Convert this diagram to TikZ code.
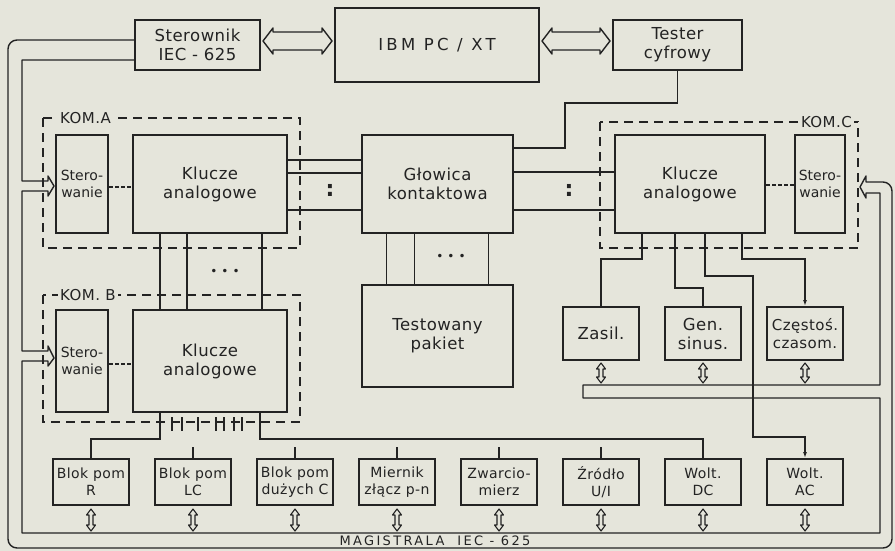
\documentclass[tikz,border=0pt]{standalone}
\usepackage{fontspec}
\setmainfont{DejaVu Sans}[LetterSpace=3]
\usetikzlibrary{positioning,calc,arrows.meta}

\definecolor{paper}{RGB}{229,229,219}
\definecolor{ink}{RGB}{35,35,35}

% hollow double arrow, horizontal
\newcommand\htap[2]{%
  \draw[bus] let \p1=(#1), \p2=(#2) in
    (\x1,\y1) -- (\x1+10pt,\y1+13pt) -- (\x1+10pt,\y1+9pt) -- (\x2-10pt,\y1+9pt)
    -- (\x2-10pt,\y1+13pt) -- (\x2,\y1) -- (\x2-10pt,\y1-13pt) -- (\x2-10pt,\y1-9pt)
    -- (\x1+10pt,\y1-9pt) -- (\x1+10pt,\y1-13pt) -- cycle;}
% hollow double arrow, vertical
\newcommand\vtap[2]{%
  \draw[bus, line width=1.1pt] let \p1=(#1), \p2=(#2) in
    (\x1,\y1) -- (\x1-4.5pt,\y1-6pt) -- (\x1-2pt,\y1-6pt) -- (\x1-2pt,\y2+6pt)
    -- (\x1-4.5pt,\y2+6pt) -- (\x1,\y2) -- (\x1+4.5pt,\y2+6pt) -- (\x1+2pt,\y2+6pt)
    -- (\x1+2pt,\y1-6pt) -- (\x1+4.5pt,\y1-6pt) -- cycle;}

\begin{document}
\begin{tikzpicture}[x=1pt, y=-1pt,
  blk/.style = {draw=ink, text=ink, line width=2pt, align=center, inner sep=1pt, font=\fontsize{16.5}{19}\selectfont},
  meas/.style = {blk, minimum width=76pt, minimum height=53pt},
  small/.style = {blk, font=\fontsize{14}{17}\selectfont, minimum width=76pt, minimum height=46pt},
  sterbox/.style = {blk, font=\fontsize{14}{17}\selectfont\addfontfeatures{LetterSpace=0}, minimum width=52pt, inner sep=0pt},
  wire/.style = {draw=ink, line width=1.3pt},
  bus/.style = {draw=ink, line width=1.4pt, line join=round},
  kom/.style = {draw=ink, line width=1.2pt, dash pattern=on 9pt off 6pt},
  komlbl/.style = {fill=paper, inner sep=2pt, text=ink, font=\fontsize{15}{17}\selectfont},
  ctl/.style = {draw=ink, line width=2pt, dash pattern=on 4pt off 2pt},
  dots/.style = {text=ink, inner sep=0pt, font=\fontsize{12}{12}\selectfont},
  colon/.style = {text=ink, inner sep=0pt, font=\fontsize{22}{22}\selectfont\bfseries}]

  \fill[paper] (0,0) rectangle (895,551);
  \useasboundingbox (0,0) rectangle (895,551);

  % top row
  \node[blk, minimum width=125pt, minimum height=50pt] (ster) at (197.5,45) {Sterownik\\IEC - 625};
  \node[blk, minimum width=204pt, minimum height=74pt] (ibm) at (437,45) {\addfontfeatures{LetterSpace=20}IBM PC / XT};
  \node[blk, minimum width=129pt, minimum height=50pt] (tester) at (677.5,45) {Tester\\cyfrowy};

  % centre
  \node[blk, minimum width=151pt, minimum height=98pt] (glow) at (437.5,184) {Głowica\\kontaktowa};
  \node[blk, minimum width=151pt, minimum height=102pt, below=50pt of glow] (test) {Testowany\\pakiet};

  % KOM.A, KOM.B
  \node[blk, minimum width=154pt, minimum height=98pt] (klA) at (210,184) {Klucze\\analogowe};
  \node[sterbox, minimum height=98pt, left=23pt of klA] (stA) {Stero-\\wanie};
  \node[blk, minimum width=154pt, minimum height=102pt, below=75pt of klA] (klB) {Klucze\\analogowe};
  \node[sterbox, minimum height=102pt, left=23pt of klB] (stB) {Stero-\\wanie};

  % KOM.C
  \node[blk, minimum width=150pt, minimum height=98pt] (klC) at (690,184) {Klucze\\analogowe};
  \node[sterbox, minimum width=50pt, minimum height=98pt, right=28pt of klC] (stC) {Stero-\\wanie};

  \node[meas] (zas) at (601,333.5) {Zasil.};
  \node[meas, right of=zas, node distance=102pt] (gen) {Gen.\\sinus.};
  \node[meas, right of=gen, node distance=102pt, font=\fontsize{15}{18}\selectfont] (cze) {Częstoś.\\czasom.};

  % bottom row
  \node[small] (bR) at (91,482) {Blok pom\\R};
  \node[small, right of=bR, node distance=102pt] (bLC) {Blok pom\\LC};
  \node[small, right of=bLC, node distance=102pt] (bdC) {Blok pom\\dużych C};
  \node[small, right of=bdC, node distance=102pt] (bpn) {Miernik\\złącz p-n};
  \node[small, right of=bpn, node distance=102pt] (bZw) {Zwarcio-\\mierz};
  \node[small, right of=bZw, node distance=102pt] (bUI) {Źródło\\U/I};
  \node[small, right of=bUI, node distance=102pt] (wDC) {Wolt.\\DC};
  \node[small, right of=wDC, node distance=102pt] (wAC) {Wolt.\\AC};

  % dashed modules
  \draw[kom] (43,118) rectangle (300,248);
  \node[komlbl, anchor=west] (komA) at (58,118) {KOM.A};
  \draw[kom] (43,295) rectangle (300,422);
  \node[komlbl, anchor=west] (komB) at (58,295) {KOM. B};
  \draw[kom] (600,122) rectangle (858,248);
  \node[komlbl, anchor=east] (komC) at (854,122) {KOM.C};

  % bus IEC-625
  \coordinate (tipA) at ($(stA.west)+(-1,2)$);
  \coordinate (tipB) at ($(stB.west)+(-1,-3)$);
  \coordinate (tipC) at ($(stC.east)+(14,3)$);
  \coordinate (busin) at (22,533);
  \coordinate (subtop) at (583,385);
  \draw[bus] ($(ster.west)+(0,15)$) -- (22,60) -- (22,181) -- (48,181) -- (48,176) -- (tipA)
    -- (48,196) -- (48,191) -- (22,191) -- (22,351) -- (48,351) -- (48,346) -- (tipB)
    -- (48,366) -- (48,361) -- (22,361) -- (busin) -- (880,533) -- (880,398) -- (583,398)
    -- (subtop) -- (880,385) -- (880,193) -- (866,193) -- (866,198) -- (tipC);
  \draw[bus] ($(ster.west)+(0,-5)$) [rounded corners=9pt] -- (8,40) -- (8,548) -- (892,548)
    -- (892,182) [sharp corners] -- (866,182) -- (866,176) -- (tipC);
  \node[komlbl, fill=none, font=\fontsize{13}{13}\selectfont\addfontfeatures{LetterSpace=18}] (mag) at (435,541) {MAGISTRALA\quad IEC - 625};

  \htap{$(ster.east)+(2,-4)$}{$(ibm.west)+(-2,-4)$}
  \htap{$(ibm.east)+(2,-4)$}{$(tester.west)+(-2,-4)$}
  \foreach \b in {zas,gen,cze}
    \vtap{$(\b.south)+(0,2)$}{$(\b.south |- subtop)+(0,-2)$};
  \foreach \b in {bR,bLC,bdC,bpn,bZw,bUI,wDC,wAC}
    \vtap{$(\b.south)+(0,3)$}{$(\b.south |- busin)+(0,-2)$};

  % connections
  \draw[wire] (tester.south) |- (565,103) |- ([yshift=36pt]glow.east);
  \foreach \dy in {24,11,-26}
    \draw[wire] ([yshift=\dy pt]klA.east) -- ([yshift=\dy pt]glow.west);
  \foreach \dy in {12,-26}
    \draw[wire] ([yshift=\dy pt]glow.east) -- ([yshift=\dy pt]klC.west);
  \node[colon] (cA) at (330,190) {:};
  \node[colon] (cC) at (569,190) {:};
  \foreach \dx in {-51,-23,51}
    \draw[wire] ([xshift=\dx pt]glow.south) -- ([xshift=\dx pt]test.north);
  \node[dots] (dG) at (451,257) {•\hspace{4pt}•\hspace{4pt}•};
  \foreach \dx in {-50,-23,52}
    \draw[wire] ([xshift=\dx pt]klA.south) -- ([xshift=\dx pt]klB.north);
  \node[dots] (dAB) at (225,272) {•\hspace{4pt}•\hspace{4pt}•};

  \draw[ctl] ([yshift=-3pt]stA.east) -- ([yshift=-3pt]klA.west);
  \draw[ctl] ([yshift=-3pt]stB.east) -- ([yshift=-3pt]klB.west);
  \draw[ctl] ([yshift=-1pt]klC.east) -- ([yshift=-1pt]stC.west);

  \draw[wire] ([xshift=-50pt]klB.south) -- ++(0,26) -| (bR.north);
  \draw[wire] ([xshift=50pt]klB.south) -- ++(0,26) -| (wDC.north);
  \foreach \dx in {-38,-28,-12,6,14,24,32}
    \draw[wire] ([xshift=\dx pt, yshift=-4pt]klB.south) -- ++(0,14);
  \foreach \b in {bLC,bdC,bpn,bZw,bUI}
    \draw[wire] (\b.north) -- ++(0,-11);

  \draw[wire] ([xshift=-48pt]klC.south) -- ++(0,25) -| (zas.north);
  \draw[wire] ([xshift=-15pt]klC.south) -- ++(0,54) -| (gen.north);
  \draw[wire, -{Latex[length=6pt,width=4pt]}] ([xshift=15pt]klC.south) -- ++(0,42) -| (753,437) -| (wAC.north);
  \draw[wire, -{Latex[length=6pt,width=4pt]}] ([xshift=52pt]klC.south) -- ++(0,25) -| (cze.north);
\end{tikzpicture}
\end{document}
